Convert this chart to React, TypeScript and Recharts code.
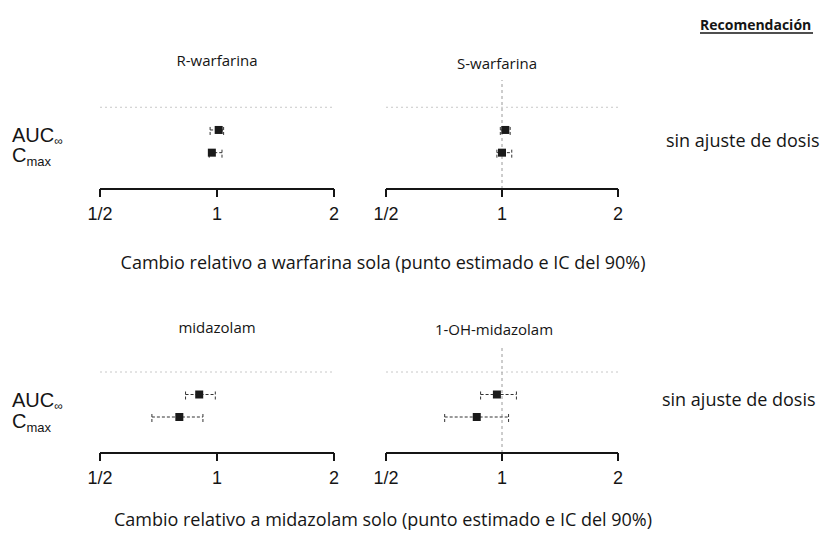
import React from 'react';
import { ScatterChart, Scatter, XAxis, YAxis, ErrorBar, ReferenceLine } from 'recharts';

// ---- data ----
const metricRows = [1, 2]; // 1 = AUC∞, 2 = Cmax
const xTicks = [0.5, 1, 2];
const xTickLabels = ['1/2', '1', '2'];

const rWarfarinaEst = [1.01, 0.97];
const rWarfarinaLow = [0.96, 0.955];
const rWarfarinaHigh = [1.04, 1.03];

const sWarfarinaEst = [1.02, 1.0];
const sWarfarinaLow = [0.99, 0.97];
const sWarfarinaHigh = [1.05, 1.06];

const midazolamEst = [0.9, 0.8];
const midazolamLow = [0.83, 0.68];
const midazolamHigh = [0.99, 0.92];

const ohMidazolamEst = [0.97, 0.86];
const ohMidazolamLow = [0.88, 0.71];
const ohMidazolamHigh = [1.09, 1.04];

const panelTitles = ['R-warfarina', 'S-warfarina', 'midazolam', '1-OH-midazolam'];
const captions = [
  'Cambio relativo a warfarina sola (punto estimado e IC del 90%)',
  'Cambio relativo a midazolam solo (punto estimado e IC del 90%)',
];
const recommendationHeader = 'Recomendación';
const recommendation = 'sin ajuste de dosis';

const build = (est: number[], lo: number[], hi: number[]) =>
  est.map((v, i) => ({ y: metricRows[i], x: v, err: [v - lo[i], hi[i] - v] }));

const fmtTick = (v: number) => {
  const i = xTicks.indexOf(v);
  return i >= 0 ? xTickLabels[i] : String(v);
};

const INK = '#151515';

function Panel({ data, left, top, width, height, refLine }: { data: any[]; left: number; top: number; width: number; height: number; refLine: boolean }) {
  return (
    <div style={{ position: 'absolute', left, top }}>
      <ScatterChart width={width} height={height} margin={{ top: 0, right: 20, bottom: 0, left: 20 }}>
        <XAxis
          type="number"
          dataKey="x"
          scale="log"
          domain={[0.5, 2]}
          ticks={xTicks}
          interval={0}
          tickFormatter={fmtTick}
          axisLine={{ stroke: INK, strokeWidth: 2 }}
          tickLine={{ stroke: INK, strokeWidth: 2 }}
          tickSize={8}
          tickMargin={10}
          height={40}
          tick={{ fill: INK, fontSize: 18, fontFamily: 'Liberation Sans, Arial, sans-serif' }}
          allowDataOverflow
        />
        <YAxis type="number" dataKey="y" domain={[-1.2, 3.6]} reversed hide allowDataOverflow />
        <ReferenceLine y={0} stroke="#c8c8c8" strokeDasharray="2 3" strokeWidth={1} />
        {refLine && <ReferenceLine x={1} stroke="#9a9a9a" strokeDasharray="3 3" strokeWidth={1} />}
        <Scatter data={data} fill="#1a1a1a" shape="square" isAnimationActive={false}>
          <ErrorBar dataKey="err" direction="x" width={5} stroke="#333" strokeWidth={1} strokeDasharray="3 2" />
        </Scatter>
      </ScatterChart>
    </div>
  );
}

function RowLabels({ y1, y2 }: { y1: number; y2: number }) {
  const f = 'Liberation Sans, Arial, sans-serif';
  return (
    <>
      <text x={12} y={y1} fontFamily={f} fontSize={20} fill={INK}>
        AUC<tspan fontSize={12} dy={3}>∞</tspan>
      </text>
      <text x={12} y={y2} fontFamily={f} fontSize={20} fill={INK}>
        C<tspan fontSize={13} dy={4}>max</tspan>
      </text>
    </>
  );
}

export default function App() {
  const sans = '"Open Sans", "Noto Sans", sans-serif';
  return (
    <div style={{ position: 'absolute', left: 0, top: 0, width: 825, height: 533, background: '#fff', overflow: 'hidden' }}>
      <svg width={825} height={533} style={{ position: 'absolute', left: 0, top: 0 }}>
        <text x={700} y={30} fontFamily={sans} fontSize={14} fontWeight={700} fill={INK}>{recommendationHeader}</text>
        <line x1={700} x2={813} y1={33} y2={33} stroke={INK} strokeWidth={1.5} />

        <text x={217} y={66} textAnchor="middle" fontFamily={sans} fontSize={15} fill={INK}>{panelTitles[0]}</text>
        <text x={497} y={69} textAnchor="middle" fontFamily={sans} fontSize={15} fill={INK}>{panelTitles[1]}</text>
        <text x={217} y={333} textAnchor="middle" fontFamily={sans} fontSize={15} fill={INK}>{panelTitles[2]}</text>
        <text x={494} y={335} textAnchor="middle" fontFamily={sans} fontSize={15} fill={INK}>{panelTitles[3]}</text>

        <RowLabels y1={142} y2={162} />
        <RowLabels y1={407} y2={428} />

        <text x={666} y={147} fontFamily={sans} fontSize={18} fill={INK}>{recommendation}</text>
        <text x={662} y={406} fontFamily={sans} fontSize={18} fill={INK}>{recommendation}</text>

        <text x={383} y={269} textAnchor="middle" fontFamily={sans} fontSize={18} fill={INK}>{captions[0]}</text>
        <text x={383} y={526} textAnchor="middle" fontFamily={sans} fontSize={18} fill={INK}>{captions[1]}</text>
      </svg>

      <Panel data={build(rWarfarinaEst, rWarfarinaLow, rWarfarinaHigh)} left={80} top={80} width={274} height={149} refLine={false} />
      <Panel data={build(sWarfarinaEst, sWarfarinaLow, sWarfarinaHigh)} left={366} top={80} width={272} height={149} refLine={true} />
      <Panel data={build(midazolamEst, midazolamLow, midazolamHigh)} left={80} top={345} width={274} height={148} refLine={false} />
      <Panel data={build(ohMidazolamEst, ohMidazolamLow, ohMidazolamHigh)} left={366} top={345} width={272} height={148} refLine={true} />
    </div>
  );
}
